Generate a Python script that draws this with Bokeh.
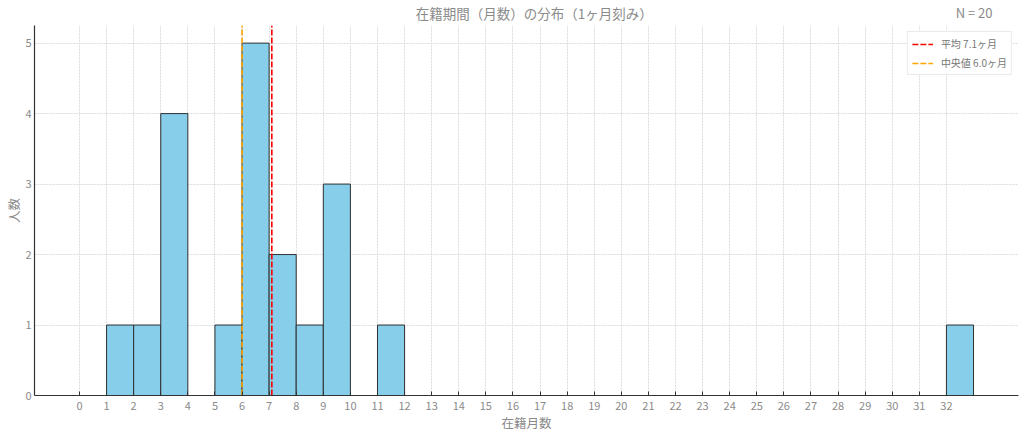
from bokeh.plotting import figure
from bokeh.layouts import column
from bokeh.models import Range1d, FixedTicker, Legend, LegendItem
from bokeh.core.properties import value
from bokeh.embed import file_html
from bokeh.resources import INLINE

# ---- data ----
BIN_LEFT = [1, 2, 3, 5, 6, 7, 8, 9, 11, 32]
COUNTS = [1, 1, 4, 1, 5, 2, 1, 3, 1, 1]
BIN_WIDTH = 1
MEAN = 7.1
MEDIAN = 6.0
N = 20
X_TICKS = list(range(0, 33))
Y_TICKS = [0, 1, 2, 3, 4, 5]
TITLE = "在籍期間（月数）の分布（1ヶ月刻み）"
X_LABEL = "在籍月数"
Y_LABEL = "人数"

FONT = "Noto Sans CJK JP"
GRAY = "#8a8a8a"

X_START, X_END = -1.66, 34.66
Y_START, Y_END = 0, 5.25

W = 1024
H = 436
HEAD_H = 25

# ---- header with title and N ----
head = figure(width=W, height=HEAD_H, output_backend="svg", toolbar_location=None,
              x_range=Range1d(0, W), y_range=Range1d(0, HEAD_H),
              x_axis_type=None, y_axis_type=None, min_border=0)
head.outline_line_color = None
head.xgrid.visible = False
head.ygrid.visible = False
head.text(x=[520], y=[HEAD_H - 12], text=[TITLE], text_align="center", text_baseline="middle",
          text_color=GRAY, text_font=value(FONT), text_font_size="13.5px")
head.text(x=[997], y=[HEAD_H - 12], text=[f"N = {N}"], text_align="right", text_baseline="middle",
          text_color=GRAY, text_font=value(FONT), text_font_size="13px")

# ---- main plot ----
p = figure(width=W, height=H - HEAD_H, output_backend="svg", toolbar_location=None,
           x_range=Range1d(X_START, X_END), y_range=Range1d(Y_START, Y_END),
           min_border_left=34, min_border_right=6, min_border_top=0, min_border_bottom=41)
p.outline_line_color = None
p.background_fill_color = "white"
p.border_fill_color = "white"

# bars
right = [b + BIN_WIDTH for b in BIN_LEFT]
p.quad(left=BIN_LEFT, right=right, bottom=0, top=COUNTS,
       fill_color="#87CEEB", line_color="#2f2f2f", line_width=1)

# mean / median lines
r_mean = p.line(x=[MEAN, MEAN], y=[Y_START, Y_END], line_color="#ff0000",
                line_width=1.6, line_dash="6 2")
r_med = p.line(x=[MEDIAN, MEDIAN], y=[Y_START, Y_END], line_color="#ffa500",
               line_width=1.6, line_dash="6 2")

legend = Legend(items=[LegendItem(label=f"平均 {MEAN:.1f}ヶ月", renderers=[r_mean]),
                       LegendItem(label=f"中央値 {MEDIAN:.1f}ヶ月", renderers=[r_med])],
                location="top_right")
legend.label_text_font = FONT
legend.label_text_font_size = "10px"
legend.label_text_color = "#777777"
legend.border_line_color = "#d6d6d6"
legend.border_line_width = 1
legend.background_fill_alpha = 0.9
legend.glyph_width = 21
legend.glyph_height = 12
legend.label_height = 12
legend.spacing = 4
legend.padding = 4
legend.margin = 6
legend.label_standoff = 8
p.add_layout(legend)

# axes
for ax in (p.xaxis[0], p.yaxis[0]):
    ax.axis_line_color = "#333333"
    ax.axis_line_width = 1.2
    ax.major_tick_out = 0
    ax.minor_tick_in = 0
    ax.minor_tick_out = 0
    ax.major_tick_line_color = "#333333"
    ax.major_label_text_color = GRAY
    ax.major_label_text_font = FONT
    ax.major_label_text_font_size = "11px"
    ax.axis_label_text_color = GRAY
    ax.axis_label_text_font = FONT
    ax.axis_label_text_font_size = "12.5px"
    ax.axis_label_text_font_style = "normal"
p.xaxis.major_tick_in = 4
p.yaxis.major_tick_in = 0

p.xaxis.ticker = FixedTicker(ticks=X_TICKS)
p.yaxis.ticker = FixedTicker(ticks=Y_TICKS)
p.xaxis.axis_label = X_LABEL
p.yaxis.axis_label = Y_LABEL
p.xaxis.major_label_standoff = 6
p.xaxis.axis_label_standoff = 0
p.yaxis.major_label_standoff = 3
p.yaxis.axis_label_standoff = -1

# grid
for g in (p.xgrid[0], p.ygrid[0]):
    g.grid_line_color = "#dcdcdc"
    g.grid_line_dash = "2 1"
    g.grid_line_width = 1
p.xgrid.ticker = FixedTicker(ticks=X_TICKS)
p.ygrid.ticker = FixedTicker(ticks=Y_TICKS)

layout = column(head, p, spacing=0)
open("out.html", "w").write(file_html(layout, INLINE))
